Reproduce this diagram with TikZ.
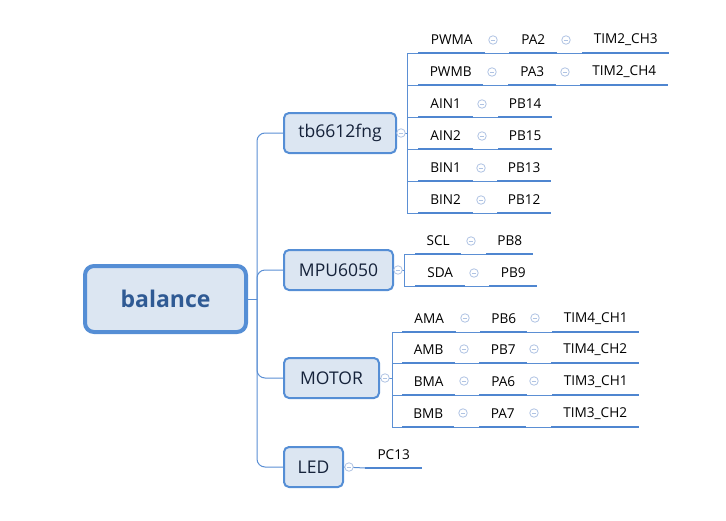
\documentclass[tikz,border=0pt]{standalone}
\usepackage{fontspec}
\setmainfont{Open Sans}
\usetikzlibrary{calc}
\definecolor{boxfill}{HTML}{DCE6F2}
\definecolor{boxdraw}{HTML}{558ED5}
\definecolor{linec}{HTML}{5B8FD4}
\definecolor{ulc}{HTML}{4F86D0}
\definecolor{collc}{HTML}{AFC3E3}
\definecolor{roottext}{HTML}{2F5A94}
\definecolor{maintext}{HTML}{15223A}
\definecolor{leaftext}{HTML}{000000}
\newcommand\ulin[1]{\draw[uline] (#1.south west) -- (#1.south east);}
\newcommand\lnk[2]{\draw[conn] (#1.south east) -- (#2.south west);}
\begin{document}
\begin{tikzpicture}[x=1pt,y=-1pt,
 rootbox/.style={draw=boxdraw, fill=boxfill, line width=4pt, rounded corners=9pt, minimum width=161pt, minimum height=66pt, inner sep=0pt, text=roottext, font=\fontsize{23}{27}\selectfont\bfseries},
 mainbox/.style={draw=boxdraw, fill=boxfill, line width=2pt, rounded corners=5pt, minimum height=40pt, inner sep=0pt, anchor=west, text=maintext, font=\fontsize{17.5}{20}\selectfont},
 leaf/.style={rectangle, inner sep=0pt, minimum height=26pt, anchor=south west, text=leaftext, font=\fontsize{13.6}{15}\selectfont},
 conn/.style={draw=linec, line width=1pt},
 uline/.style={draw=ulc, line width=2.8pt},
 coll/.style={circle, draw=collc, fill=white, minimum size=8.5pt, inner sep=0pt, line width=0.8pt,
   path picture={\draw[collc, line width=0.8pt] ([xshift=-2.2pt]path picture bounding box.center) -- ([xshift=2.2pt]path picture bounding box.center);}}
]
\useasboundingbox (0,0) rectangle (726,520);

% root and main nodes
\node[rootbox] (root) at (165.5,299) {balance};
\node[mainbox, minimum width=112pt] (tb) at (283,133) {tb6612fng};
\node[mainbox, minimum width=109pt] (mpu) at (283,270) {MPU6050};
\node[mainbox, minimum width=95pt] (motor) at (283,378) {MOTOR};
\node[mainbox, minimum width=59pt] (led) at (283,467) {LED};

% tb6612fng leaves
\node[leaf, minimum width=67pt] (pwma) at (418,53) {PWMA};
\node[leaf, minimum width=48pt] (pa2) at (509,53) {PA2};
\node[leaf, minimum width=87pt] (tim23) at (582,53) {TIM2\_CH3};
\node[leaf, minimum width=65pt] (pwmb) at (418,85) {PWMB};
\node[leaf, minimum width=48pt] (pa3) at (508,85) {PA3};
\node[leaf, minimum width=88pt] (tim24) at (580,85) {TIM2\_CH4};
\node[leaf, minimum width=55pt] (ain1) at (418,117) {AIN1};
\node[leaf, minimum width=54pt] (pb14) at (498,117) {PB14};
\node[leaf, minimum width=55pt] (ain2) at (418,149) {AIN2};
\node[leaf, minimum width=54pt] (pb15) at (498,149) {PB15};
\node[leaf, minimum width=55pt] (bin1) at (418,181) {BIN1};
\node[leaf, minimum width=54pt] (pb13) at (497,181) {PB13};
\node[leaf, minimum width=55pt] (bin2) at (418,213) {BIN2};
\node[leaf, minimum width=54pt] (pb12) at (497,213) {PB12};

% MPU6050 leaves
\node[leaf, minimum width=46pt] (scl) at (415,254) {SCL};
\node[leaf, minimum width=47pt] (pb8) at (486,254) {PB8};
\node[leaf, minimum width=50pt] (sda) at (415,286) {SDA};
\node[leaf, minimum width=48pt] (pb9) at (489,286) {PB9};

% MOTOR leaves
\node[leaf, minimum width=54pt] (ama) at (402,332) {AMA};
\node[leaf, minimum width=47pt] (pb6) at (480,332) {PB6};
\node[leaf, minimum width=87pt] (tim41) at (552,332) {TIM4\_CH1};
\node[leaf, minimum width=53pt] (amb) at (402,363) {AMB};
\node[leaf, minimum width=48pt] (pb7) at (479,363) {PB7};
\node[leaf, minimum width=88pt] (tim42) at (551,363) {TIM4\_CH2};
\node[leaf, minimum width=53pt] (bma) at (402,395) {BMA};
\node[leaf, minimum width=48pt] (pa6) at (479,395) {PA6};
\node[leaf, minimum width=87pt] (tim31) at (552,395) {TIM3\_CH1};
\node[leaf, minimum width=52pt] (bmb) at (402,427) {BMB};
\node[leaf, minimum width=47pt] (pa7) at (479,427) {PA7};
\node[leaf, minimum width=88pt] (tim32) at (551,427) {TIM3\_CH2};

% LED leaf
\node[leaf, minimum width=57pt] (pc13) at (365,468) {PC13};

% root connectors
\coordinate (rj) at (257,299);
\draw[conn] (root.east) -- (rj);
\foreach \n in {tb,mpu,motor,led} {\draw[conn, rounded corners=8pt] (rj) |- (\n.west);}

% tb connectors
\coordinate (tbj) at (407,133);
\draw[conn] (tb.east) -- (tbj);
\foreach \n in {pwma,pwmb,ain1,ain2,bin1,bin2} {\draw[conn] (tbj) |- (\n.south west);}
\lnk{pwma}{pa2}\lnk{pa2}{tim23}\lnk{pwmb}{pa3}\lnk{pa3}{tim24}
\lnk{ain1}{pb14}\lnk{ain2}{pb15}\lnk{bin1}{pb13}\lnk{bin2}{pb12}

% mpu connectors
\coordinate (mpuj) at (404,270);
\draw[conn] (mpu.east) -- (mpuj);
\foreach \n in {scl,sda} {\draw[conn] (mpuj) |- (\n.south west);}
\lnk{scl}{pb8}\lnk{sda}{pb9}

% motor connectors
\coordinate (motj) at (392,378);
\draw[conn] (motor.east) -- (motj);
\foreach \n in {ama,amb,bma,bmb} {\draw[conn] (motj) |- (\n.south west);}
\lnk{ama}{pb6}\lnk{pb6}{tim41}\lnk{amb}{pb7}\lnk{pb7}{tim42}
\lnk{bma}{pa6}\lnk{pa6}{tim31}\lnk{bmb}{pa7}\lnk{pa7}{tim32}

% led connector
\draw[conn] (led.east) -- (pc13.south west);

% underlines
\foreach \n in {pwma,pa2,tim23,pwmb,pa3,tim24,ain1,pb14,ain2,pb15,bin1,pb13,bin2,pb12,scl,pb8,sda,pb9,ama,pb6,tim41,amb,pb7,tim42,bma,pa6,tim31,bmb,pa7,tim32,pc13} {\ulin{\n}}

% collapse markers
\node[coll] (ctb) at (401,133) {};
\node[coll] (cmpu) at (398,270) {};
\node[coll] (cmot) at (385,378) {};
\node[coll] (cled) at (349,467) {};
\node[coll] (c1) at (493,40) {};
\node[coll] (c2) at (566,40) {};
\node[coll] (c3) at (492,72) {};
\node[coll] (c4) at (565,72) {};
\node[coll] (c5) at (482,104) {};
\node[coll] (c6) at (482,136) {};
\node[coll] (c7) at (481,168) {};
\node[coll] (c8) at (481,200) {};
\node[coll] (c9) at (471,241) {};
\node[coll] (c10) at (474,273) {};
\node[coll] (c11) at (465,318) {};
\node[coll] (c12) at (535,318) {};
\node[coll] (c13) at (464,349) {};
\node[coll] (c14) at (534,349) {};
\node[coll] (c15) at (464,381) {};
\node[coll] (c16) at (534,381) {};
\node[coll] (c17) at (463,413) {};
\node[coll] (c18) at (534,413) {};
\end{tikzpicture}
\end{document}
